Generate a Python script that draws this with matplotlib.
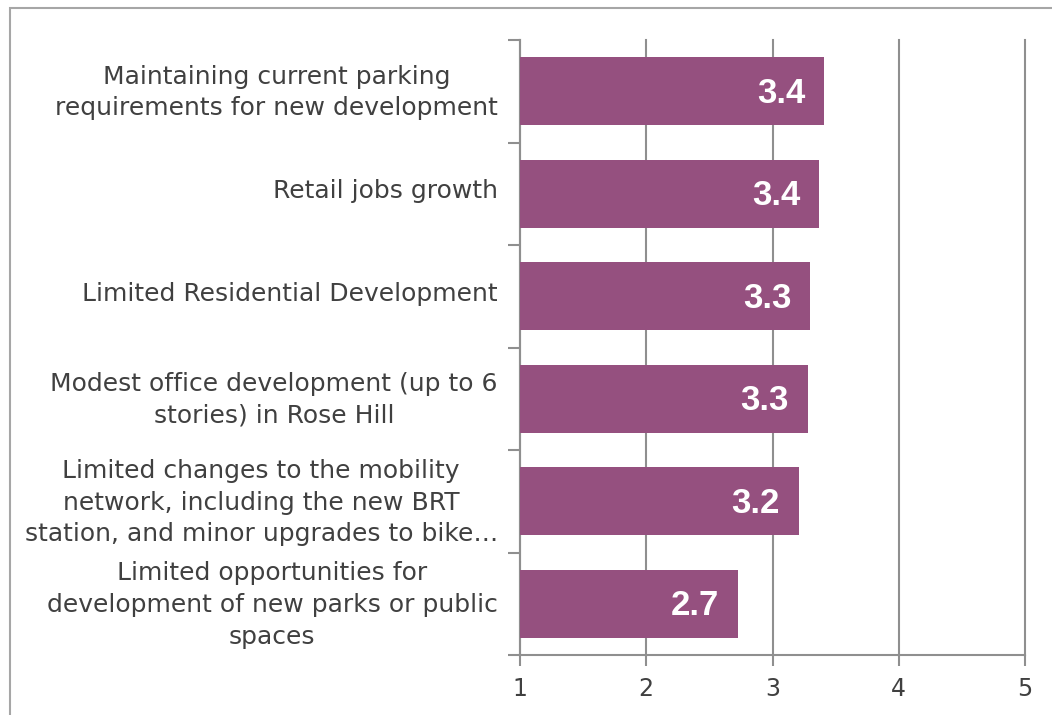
import matplotlib.pyplot as plt
import matplotlib.transforms as mtransforms
from matplotlib.patches import Rectangle

# Survey items (top to bottom) and mean scores
labels = [
    "Maintaining current parking\nrequirements for new development",
    "Retail jobs growth",
    "Limited Residential Development",
    "Modest office development (up to 6\nstories) in Rose Hill",
    "Limited changes to the mobility\nnetwork, including the new BRT\nstation, and minor upgrades to bike\u2026",
    "Limited opportunities for\ndevelopment of new parks or public\nspaces",
]
scores = [3.41, 3.37, 3.30, 3.28, 3.21, 2.73]
shown = ["3.4", "3.4", "3.3", "3.3", "3.2", "2.7"]
xticks = [1, 2, 3, 4, 5]

bar_color = "#95507F"
grid_color = "#8F8F8F"
text_color = "#404040"

fig = plt.figure(figsize=(10.52, 7.15), dpi=100)
# outer chart border
fig.patches.append(Rectangle((10 / 1052, -0.1), 1.2, 1 - 8 / 715 + 0.1,
                             transform=fig.transFigure, fill=False,
                             edgecolor="#A6A6A6", linewidth=1.5))

ax = fig.add_axes([520 / 1052, 60 / 715, 505 / 1052, 615 / 715])
y = list(range(len(labels)))
ax.barh(y, [s - 1 for s in scores], left=1, height=0.66, color=bar_color, zorder=3)

for yi, s, t in zip(y, scores, shown):
    ax.text(s - 0.15, yi + 0.02, t, ha="right", va="center", color="white",
            fontsize=25, fontweight="bold", family="Liberation Sans", zorder=4)

ax.set_xlim(1, 5)
ax.set_ylim(len(labels) - 0.5, -0.5)
ax.set_xticks(xticks)
ax.set_xticklabels([str(v) for v in xticks], fontsize=17, color=text_color, family="DejaVu Sans")
ax.set_yticks(y)
ax.set_yticklabels(labels, fontsize=18, color=text_color, family="DejaVu Sans",
                   multialignment="center", linespacing=1.4)
ax.tick_params(axis="y", length=0, pad=16)
ax.set_yticks([i - 0.5 for i in range(len(labels) + 1)], minor=True)
ax.tick_params(axis="y", which="minor", length=9, color=grid_color, width=1.5)
ax.tick_params(axis="x", length=8, color=grid_color, width=1.5, pad=8)

# nudge category labels up a little
shift = mtransforms.ScaledTranslation(0, 5 / 100, fig.dpi_scale_trans)
for lbl in ax.get_yticklabels():
    lbl.set_transform(lbl.get_transform() + shift)

ax.grid(axis="x", color=grid_color, linewidth=1.5, zorder=0)
for gl in ax.get_xgridlines():
    gl.set_clip_on(False)
for side in ["top", "right"]:
    ax.spines[side].set_visible(False)
for side in ["left", "bottom"]:
    ax.spines[side].set_color(grid_color)
    ax.spines[side].set_linewidth(1.5)

fig.savefig("out.png", dpi=100)
